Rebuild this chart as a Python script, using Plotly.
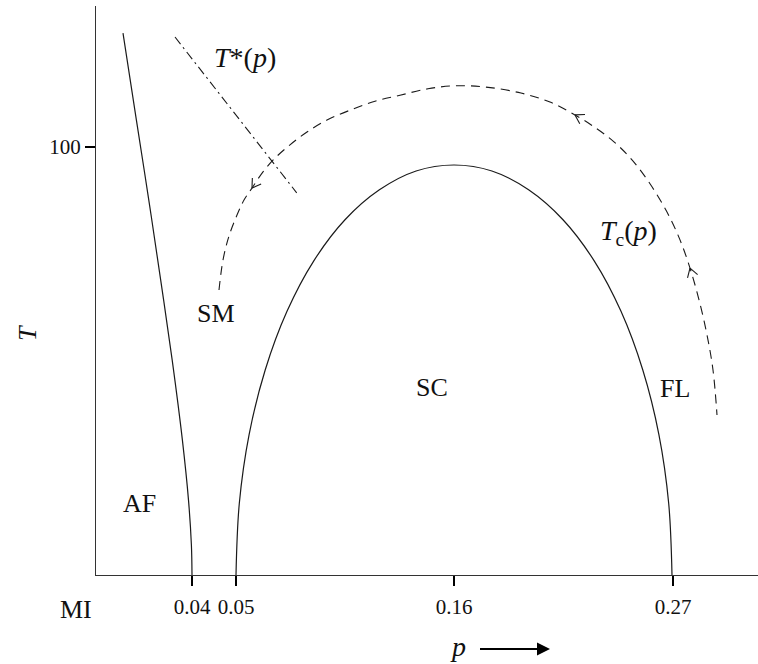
import numpy as np
import plotly.graph_objects as go

# ---- schematic scales (x: schematic doping units, y: temperature) ----
PX_PER_T = 4.28          # vertical pixels per unit of T
X_MAX = 662
T_MAX = 569 / PX_PER_T

# tick positions / labels (schematic, non-linear p axis)
x_tick_pos = [96, 140, 358, 577]
x_tick_labels = ["0.04", "0.05", "0.16", "0.27"]
y_tick_vals = [100]
y_tick_labels = ["100"]

# AF boundary
af_u = [27, 40.4, 52.8, 64.7, 76.2, 86.4, 92.5, 95.4, 96]
af_T = [126.6, 106.3, 87.6, 68.9, 50.2, 31.5, 17.5, 7.0, 0]

# SC dome
sc_u = [140, 143.3, 153.1, 169.2, 191.0, 217.8, 249, 283.4, 320.1, 358,
        395.9, 432.6, 467, 498.2, 525, 546.8, 562.9, 572.7, 576]
sc_T = [0, 16.7, 32.8, 47.9, 61.6, 73.4, 83.0, 90.0, 94.4, 95.8,
        94.4, 90.0, 83.0, 73.4, 61.6, 47.9, 32.8, 16.7, 0]

# T*(p) crossover line
ts_u = [79, 200.7]
ts_T = [125.7, 89.3]

# dashed Tc(p) path
tc_u = [123, 127, 133, 141, 148, 156, 167, 179, 194, 211, 231, 254, 279, 304, 332, 359,
        390, 425, 454, 479, 500, 518, 536, 554, 571, 584, 594, 603, 611, 617, 621]
tc_T = [66.6, 73.6, 79.2, 84.1, 87.6, 90.4, 94.2, 97.4, 100.5, 103.5, 106.3, 108.6, 110.7, 112.1, 113.6, 114.3,
        114.0, 112.6, 110.5, 107.5, 104.4, 101.2, 97.0, 91.4, 84.8, 78.3, 71.7, 64.3, 56.1, 47.9, 37.4]
arrow_idx = [5, 19, 26]

INK = "#1a1a1a"
SERIF = "Liberation Serif, Times New Roman, serif"

fig = go.Figure()

fig.add_trace(go.Scatter(x=af_u, y=af_T, mode="lines", line=dict(color=INK, width=1.2, shape="spline", smoothing=1),
                         hoverinfo="skip", showlegend=False))
fig.add_trace(go.Scatter(x=sc_u, y=sc_T, mode="lines", line=dict(color=INK, width=1.2, shape="spline", smoothing=1),
                         hoverinfo="skip", showlegend=False))
fig.add_trace(go.Scatter(x=ts_u, y=ts_T, mode="lines", line=dict(color=INK, width=1.1, dash="9px,4px,2px,4px"),
                         hoverinfo="skip", showlegend=False))
fig.add_trace(go.Scatter(x=tc_u, y=tc_T, mode="lines", line=dict(color=INK, width=1.1, dash="9px,6px", shape="spline", smoothing=1),
                         hoverinfo="skip", showlegend=False))

# open chevron arrowheads along the dashed path (computed in pixel space)
P = np.column_stack([np.array(tc_u, float), np.array(tc_T, float) * PX_PER_T])
L, th = 10.0, np.deg2rad(32)
cx, cy = [], []
for i in arrow_idx:
    d = P[i - 1] - P[i + 1]
    d = d / np.linalg.norm(d)
    tip = P[i]
    for s in (1, -1):
        c, sn = np.cos(s * th), np.sin(s * th)
        r = np.array([c * d[0] - sn * d[1], sn * d[0] + c * d[1]])
        end = tip - L * r
        cx += [end[0], tip[0], None]
        cy += [end[1] / PX_PER_T, tip[1] / PX_PER_T, None]
fig.add_trace(go.Scatter(x=cx, y=cy, mode="lines", line=dict(color=INK, width=1.1),
                         hoverinfo="skip", showlegend=False))

def lab(text, u, T, size=26):
    fig.add_annotation(x=u, y=T, xref="x", yref="y", text=text, showarrow=False,
                       font=dict(family=SERIF, size=size, color="#111"), xanchor="center", yanchor="middle")

lab("SM", 120, 61.0)
lab("SC", 336, 43.7)
lab("FL", 579, 43.5)
lab("AF", 43, 16.8)
lab("<i>T</i>*(<i>p</i>)", 149, 121.0, 28)
lab("<i>T</i><sub>c</sub>(<i>p</i>)", 532, 80.1, 28)

def ppx(px):
    return (px - 96) / X_MAX

def ppy(py):
    return (575 - py) / 569

fig.add_annotation(x=ppx(76), y=ppy(610), xref="paper", yref="paper", text="MI", showarrow=False,
                   font=dict(family=SERIF, size=26, color="#111"), xanchor="center", yanchor="middle")
fig.add_annotation(x=ppx(27), y=ppy(333), xref="paper", yref="paper", text="<i>T</i>", showarrow=False,
                   textangle=-90, font=dict(family=SERIF, size=26, color="#111"), xanchor="center", yanchor="middle")
fig.add_annotation(x=ppx(458), y=ppy(646), xref="paper", yref="paper", text="<i>p</i>", showarrow=False,
                   font=dict(family=SERIF, size=28, color="#111"), xanchor="center", yanchor="middle")
fig.add_annotation(x=ppx(550), y=ppy(649), ax=-73, ay=0, xref="paper", yref="paper",
                   axref="pixel", ayref="pixel", text=" ", showarrow=True, arrowhead=2, arrowsize=1.3,
                   arrowwidth=2, arrowcolor="#000")

fig.update_layout(
    width=758, height=664,
    margin=dict(l=96, r=0, t=6, b=89),
    paper_bgcolor="white", plot_bgcolor="white",
    xaxis=dict(range=[0, X_MAX], tickmode="array", tickvals=x_tick_pos, ticktext=x_tick_labels,
               ticks="outside", ticklen=10, tickwidth=2, tickcolor="#000", ticklabelstandoff=3,
               showline=True, linecolor="#333", linewidth=1.3, showgrid=False, zeroline=False,
               tickfont=dict(family=SERIF, size=21, color="#111")),
    yaxis=dict(range=[0, T_MAX], tickmode="array", tickvals=y_tick_vals, ticktext=y_tick_labels,
               ticks="outside", ticklen=10, tickwidth=2, tickcolor="#000",
               showline=True, linecolor="#333", linewidth=1.3, showgrid=False, zeroline=False,
               tickfont=dict(family=SERIF, size=21, color="#111")),
    showlegend=False,
)

fig.write_html("out.html", config={"displayModeBar": False},
               post_script="document.body.style.margin='0';")
